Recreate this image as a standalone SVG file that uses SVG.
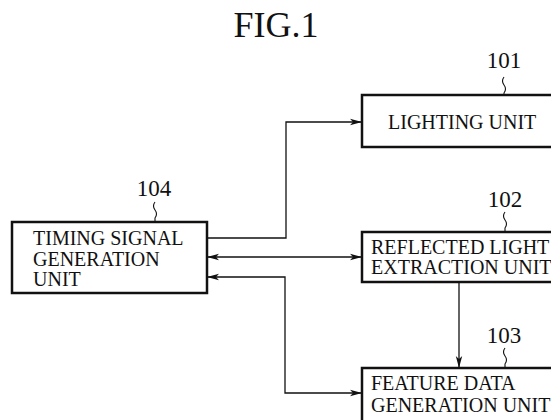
<svg xmlns="http://www.w3.org/2000/svg" width="551" height="420" viewBox="0 0 551 420">
<style>
  .box { fill: #fff; stroke: #111; stroke-width: 2.5; }
  .t { font-family: "Liberation Serif", "Times New Roman", serif; font-size: 20px; fill: #111; }
  .num { font-family: "Liberation Serif", "Times New Roman", serif; font-size: 23px; fill: #111; text-anchor: middle; }
  .title { font-family: "Liberation Serif", "Times New Roman", serif; font-size: 36px; fill: #111; text-anchor: middle; }
  .conn { fill: none; stroke: #111; stroke-width: 1.3; }
  .lead { fill: none; stroke: #111; stroke-width: 1.1; }
</style>
<defs>
  <marker id="arr" viewBox="0 0 12 8" refX="12" refY="4" markerWidth="12" markerHeight="8" markerUnits="userSpaceOnUse" orient="auto-start-reverse">
    <path d="M0,0.8 L12,4 L0,7.2 L3,4 Z" fill="#111"/>
  </marker>
</defs>
<rect width="551" height="420" fill="#fff"/>
<text class="title" x="276" y="37">FIG.1</text>

<g id="connectors">
  <path class="conn" d="M207,238 H286 V122 H362" marker-end="url(#arr)"/>
  <path class="conn" d="M207,257 H362" marker-start="url(#arr)" marker-end="url(#arr)"/>
  <path class="conn" d="M362,393 H285 V277 H207" marker-start="url(#arr)" marker-end="url(#arr)"/>
  <path class="conn" d="M459,282 V368" marker-end="url(#arr)"/>
</g>

<g id="node104">
  <rect class="box" x="12" y="222" width="195" height="71"/>
  <text class="t" x="33" y="245">TIMING SIGNAL</text>
  <text class="t" x="33" y="266">GENERATION</text>
  <text class="t" x="33" y="286">UNIT</text>
  <text class="num" x="154" y="196">104</text>
  <path class="lead" d="M155,202 q-3,4 0,8 q3,4 0,8 V222"/>
</g>

<g id="node101">
  <rect class="box" x="362" y="95" width="200" height="52"/>
  <text class="t" x="388" y="129">LIGHTING UNIT</text>
  <text class="num" x="504" y="68">101</text>
  <path class="lead" d="M504,77 q-3,4 0,8 q3,4 0,8 V95"/>
</g>

<g id="node102">
  <rect class="box" x="362" y="232" width="200" height="50"/>
  <text class="t" x="371" y="254">REFLECTED LIGHT</text>
  <text class="t" x="371" y="274">EXTRACTION UNIT</text>
  <text class="num" x="505" y="207">102</text>
  <path class="lead" d="M505,212 q-3,4 0,8 q3,4 0,8 V232"/>
</g>

<g id="node103">
  <rect class="box" x="362" y="368" width="200" height="60"/>
  <text class="t" x="371" y="390">FEATURE DATA</text>
  <text class="t" x="371" y="412">GENERATION UNIT</text>
  <text class="num" x="504" y="343">103</text>
  <path class="lead" d="M505,348 q-3,4 0,8 q3,4 0,8 V368"/>
</g>
</svg>
